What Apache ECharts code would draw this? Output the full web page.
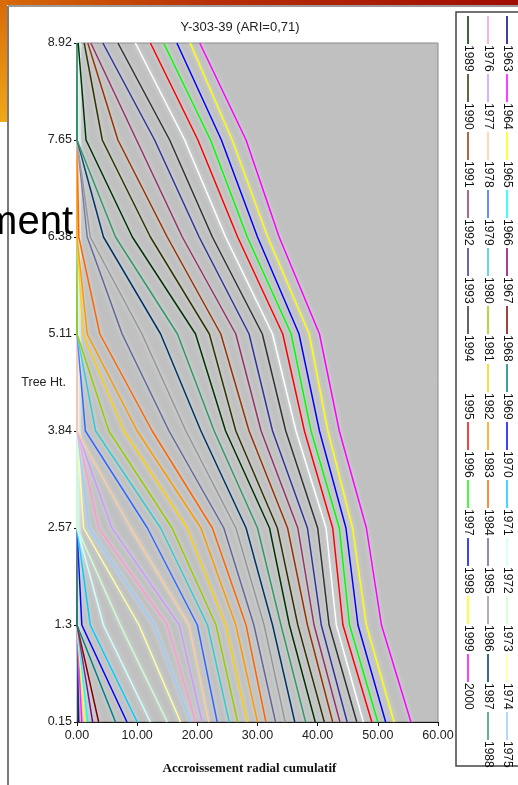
<!DOCTYPE html>
<html>
<head>
<meta charset="utf-8">
<script src="https://cdn.jsdelivr.net/npm/echarts@6/dist/echarts.min.js"></script>
<style>
  html, body { margin: 0; padding: 0; background: #fff; }
  #chart { width: 518px; height: 785px; }
</style>
</head>
<body>
<div id="chart"></div>
<script>
// hauteurs des disques (bas -> haut)
const heights = ['0.15', '1.3', '2.57', '3.84', '5.11', '6.38', '7.65', '8.92'];
const years = [1963, 1964, 1965, 1966, 1967, 1968, 1969, 1970, 1971, 1972, 1973, 1974, 1975,
  1976, 1977, 1978, 1979, 1980, 1981, 1982, 1983, 1984, 1985, 1986, 1987, 1988,
  1989, 1990, 1991, 1992, 1993, 1994, 1995, 1996, 1997, 1998, 1999, 2000];

// accroissement radial cumulatif par annee, une valeur par hauteur
const r1963 = [0.3, 0, 0, 0, 0, 0, 0, 0];
const r1964 = [0.8, 0, 0, 0, 0, 0, 0, 0];
const r1965 = [1.3, 0, 0, 0, 0, 0, 0, 0];
const r1966 = [1.8, 0, 0, 0, 0, 0, 0, 0];
const r1967 = [2.6, 0, 0, 0, 0, 0, 0, 0];
const r1968 = [3.6, 0, 0, 0, 0, 0, 0, 0];
const r1969 = [6.4, 0, 0, 0, 0, 0, 0, 0];
const r1970 = [8.3, 0.8, 0, 0, 0, 0, 0, 0];
const r1971 = [10.0, 2.2, 0, 0, 0, 0, 0, 0];
const r1972 = [12.2, 4.4, 0, 0, 0, 0, 0, 0];
const r1973 = [15.0, 7.2, 0, 0, 0, 0, 0, 0];
const r1974 = [17.2, 10.3, 1.1, 0, 0, 0, 0, 0];
const r1975 = [18.9, 12.8, 2.0, 0, 0, 0, 0, 0];
const r1976 = [19.7, 15.0, 3.6, 0, 0, 0, 0, 0];
const r1977 = [20.8, 17.0, 5.8, 0, 0, 0, 0, 0];
const r1978 = [21.9, 18.6, 8.9, 0, 0, 0, 0, 0];
const r1979 = [23.3, 20.0, 11.7, 1.4, 0, 0, 0, 0];
const r1980 = [25.3, 21.7, 13.9, 3.1, 0, 0, 0, 0];
const r1981 = [26.7, 23.1, 15.8, 5.3, 0, 0, 0, 0];
const r1982 = [28.3, 24.7, 18.3, 7.8, 1.0, 0, 0, 0];
const r1983 = [30.0, 26.4, 20.6, 10.0, 1.7, 0, 0, 0];
const r1984 = [31.4, 28.1, 22.5, 12.5, 3.8, 0.3, 0, 0];
const r1985 = [33.0, 29.4, 24.4, 15.3, 7.5, 1.7, 0, 0];
const r1986 = [34.6, 31.1, 26.4, 18.1, 10.8, 2.2, 0, 0];
const r1987 = [36.2, 32.5, 28.1, 20.6, 13.9, 4.4, 0, 0];
const r1988 = [38.0, 33.9, 30.0, 22.8, 16.7, 6.4, 0, 0];
const r1989 = [39.6, 35.3, 32.0, 24.7, 19.7, 9.2, 1.5, 0.2];
const r1990 = [41.1, 36.7, 33.3, 26.4, 22.0, 12.2, 4.2, 1.2];
const r1991 = [42.5, 38.3, 35.0, 28.6, 23.9, 15.0, 6.8, 1.8];
const r1992 = [43.7, 39.4, 36.7, 30.6, 26.4, 17.5, 9.9, 2.3];
const r1993 = [44.9, 40.6, 38.3, 32.5, 28.6, 20.3, 12.9, 4.3];
const r1994 = [46.5, 41.9, 40.0, 34.7, 30.8, 22.5, 15.4, 6.8];
const r1995 = [47.6, 43.1, 41.4, 36.4, 32.5, 24.7, 17.9, 9.7];
const r1996 = [49.0, 44.2, 42.5, 37.8, 34.2, 26.7, 20.1, 12.2];
const r1997 = [50.0, 45.3, 43.6, 38.9, 35.6, 28.3, 22.2, 14.4];
const r1998 = [51.3, 46.7, 44.7, 40.3, 36.9, 30.0, 24.0, 16.6];
const r1999 = [52.7, 48.1, 45.8, 41.7, 38.6, 31.7, 25.8, 18.8];
const r2000 = [55.5, 50.6, 48.1, 43.6, 40.3, 33.6, 28.1, 20.4];

const radii = [r1963, r1964, r1965, r1966, r1967, r1968, r1969, r1970, r1971, r1972, r1973,
  r1974, r1975, r1976, r1977, r1978, r1979, r1980, r1981, r1982, r1983, r1984, r1985,
  r1986, r1987, r1988, r1989, r1990, r1991, r1992, r1993, r1994, r1995, r1996, r1997,
  r1998, r1999, r2000];

// palette type Excel
const colors = ['#000080', '#ff00ff', '#ffff00', '#00ffff', '#800080', '#800000', '#008080', '#0000ff',
  '#00ccff', '#ccffff', '#ccffcc', '#ffff99', '#99ccff', '#ff99cc', '#cc99ff', '#ffcc99',
  '#3366ff', '#33cccc', '#99cc00', '#ffcc00', '#ff9900', '#ff6600', '#666699', '#969696',
  '#003366', '#339966', '#003300', '#333300', '#993300', '#993366', '#333399', '#333333',
  '#ffffff', '#ff0000', '#00ff00', '#0000ff', '#ffff00', '#ff00ff'];

const FONT = 'Liberation Sans, Arial, sans-serif';

const myChart = echarts.init(document.getElementById('chart'));

const series = years.map((y, i) => ({
  name: String(y),
  type: 'line',
  symbol: 'none',
  silent: true,
  lineStyle: {
    color: colors[i], width: 1.5,
    shadowColor: 'rgba(232,242,246,0.85)', shadowBlur: 4
  },
  itemStyle: { color: colors[i] },
  data: radii[i].map((v, k) => [v, k])
}));

// legende verticale (texte tourne)
const legendItems = [];
const colX = [507, 488, 468];
const perCol = 13;
years.forEach((y, i) => {
  const c = Math.floor(i / perCol);
  const k = i % perCol;
  const y0 = 16 + k * 58;
  legendItems.push({
    type: 'line',
    shape: { x1: colX[c], y1: y0, x2: colX[c], y2: y0 + 28 },
    style: { stroke: colors[i], lineWidth: 1.5 },
    z: 10
  });
  legendItems.push({
    type: 'text',
    x: colX[c] + 0.5,
    y: y0 + 29,
    rotation: -Math.PI / 2,
    style: {
      text: String(y), fill: '#111', font: '12px ' + FONT,
      textAlign: 'left', textVerticalAlign: 'middle'
    },
    z: 10
  });
});

const option = {
  animation: false,
  backgroundColor: '#fff',
  title: {
    text: 'Y-303-39 (ARI=0,71)',
    left: 235,
    textAlign: 'center',
    top: 16,
    textStyle: { fontSize: 13, fontWeight: 'normal', color: '#222', fontFamily: FONT }
  },
  grid: {
    left: 77, right: 80, top: 43, bottom: 63,
    show: true,
    backgroundColor: '#c0c0c0',
    borderColor: '#8a8a8a',
    borderWidth: 1
  },
  xAxis: {
    type: 'value',
    min: 0, max: 60, interval: 10,
    name: 'Accroissement radial cumulatif',
    nameLocation: 'middle',
    nameGap: 40,
    nameMoveOverlap: false,
    nameTextStyle: {
      fontFamily: 'Liberation Serif, Times New Roman, serif',
      fontWeight: 'bold', fontSize: 13, color: '#111',
      padding: [0, 16, 0, 0]
    },
    axisLine: { show: true, onZero: false, lineStyle: { color: '#111', width: 1 } },
    axisTick: { show: true, length: 4, lineStyle: { color: '#111' } },
    axisLabel: {
      color: '#222', fontSize: 12.5, fontFamily: FONT, margin: 7,
      formatter: v => v.toFixed(2)
    },
    splitLine: { show: false }
  },
  yAxis: {
    type: 'category',
    data: heights,
    boundaryGap: false,
    name: 'Tree Ht.',
    nameLocation: 'middle',
    nameRotate: 0,
    nameGap: 11,
    nameMoveOverlap: false,
    nameTextStyle: { color: '#222', fontSize: 12.5, fontFamily: FONT, align: 'right' },
    axisLine: { show: true, lineStyle: { color: '#111', width: 1 } },
    axisTick: { show: true, length: 3, alignWithLabel: true, lineStyle: { color: '#111' } },
    axisLabel: { color: '#222', fontSize: 12.5, fontFamily: FONT, margin: 5 },
    splitLine: { show: false }
  },
  series: series,
  graphic: [
    // fond de diapo orange
    {
      type: 'rect', shape: { x: 0, y: 0, width: 518, height: 5 },
      style: { fill: new echarts.graphic.LinearGradient(0, 0, 1, 0, [
        { offset: 0, color: '#d86a08' }, { offset: 0.4, color: '#b83008' }, { offset: 1, color: '#a00c00' }]) },
      z: -1
    },
    {
      type: 'rect', shape: { x: 0, y: 0, width: 7, height: 122 },
      style: { fill: new echarts.graphic.LinearGradient(0, 0, 0, 1, [
        { offset: 0, color: '#d86a08' }, { offset: 1, color: '#f0a818' }]) },
      z: -1
    },
    // cadre du graphique
    { type: 'line', shape: { x1: 8, y1: 6, x2: 8, y2: 785 }, style: { stroke: '#7a7a7a', lineWidth: 2 }, z: 5 },
    { type: 'line', shape: { x1: 8, y1: 6, x2: 518, y2: 6 }, style: { stroke: '#9a9a9a', lineWidth: 2 }, z: 5 },
    // cadre de la legende
    {
      type: 'rect', shape: { x: 456, y: 12, width: 80, height: 754 },
      style: { fill: '#fff', stroke: '#444', lineWidth: 1.5 },
      z: 5
    },
    ...legendItems,
    // texte de la diapo en surimpression
    {
      type: 'text', x: 73, y: 243,
      style: { text: 'ment', fill: '#000', font: '40px ' + FONT, textAlign: 'right', textVerticalAlign: 'bottom' },
      z: 100
    }
  ]
};

myChart.setOption(option, true);
</script>
</body>
</html>
